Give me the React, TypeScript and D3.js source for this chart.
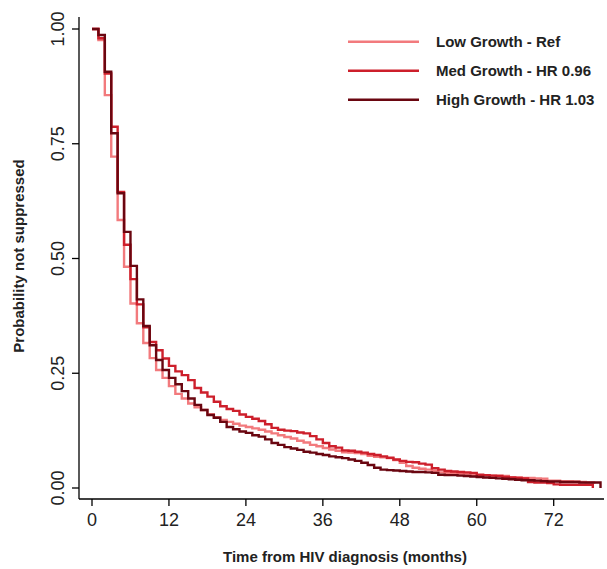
import React from "react";
import * as d3 from "d3";

const seriesNames = ["Low Growth - Ref", "Med Growth - HR 0.96", "High Growth - HR 1.03"];
const seriesColors = ["#F27A7D", "#CD1F2B", "#6A0610"];

const xTicks = [0, 12, 24, 36, 48, 60, 72];
const yTicks = [0, 0.25, 0.5, 0.75, 1.0];

// monthly survival values (month 0..78)
const lowValues = [
  1.0, 0.976, 0.856, 0.722, 0.584, 0.482, 0.402, 0.359, 0.316, 0.283,
  0.257, 0.240, 0.222, 0.205, 0.195, 0.184, 0.176, 0.170, 0.161, 0.154,
  0.148, 0.144, 0.140, 0.136, 0.133, 0.130, 0.127, 0.123, 0.119, 0.115,
  0.111, 0.108, 0.103, 0.099, 0.094, 0.091, 0.087, 0.084, 0.081, 0.078,
  0.077, 0.076, 0.074, 0.070, 0.068, 0.067, 0.065, 0.061, 0.055, 0.048,
  0.044, 0.042, 0.040, 0.037, 0.034, 0.033, 0.032, 0.031, 0.030, 0.029,
  0.028, 0.028, 0.027, 0.027, 0.026, 0.023, 0.023, 0.022, 0.022, 0.021,
  0.020, 0.016, 0.016, 0.015, 0.015, 0.014, 0.013, 0.012, 0.012,
];
const medValues = [
  1.0, 0.980, 0.903, 0.787, 0.645, 0.530, 0.455, 0.400, 0.350, 0.318,
  0.300, 0.282, 0.266, 0.254, 0.246, 0.235, 0.218, 0.208, 0.199, 0.188,
  0.178, 0.172, 0.168, 0.160, 0.155, 0.151, 0.146, 0.139, 0.131, 0.127,
  0.125, 0.124, 0.121, 0.119, 0.113, 0.106, 0.098, 0.091, 0.088, 0.082,
  0.081, 0.079, 0.077, 0.074, 0.072, 0.069, 0.066, 0.062, 0.059, 0.057,
  0.056, 0.053, 0.051, 0.043, 0.040, 0.037, 0.036, 0.035, 0.034, 0.033,
  0.029, 0.028, 0.027, 0.026, 0.024, 0.023, 0.022, 0.021, 0.013, 0.012,
  0.012, 0.011, 0.008, 0.007, 0.007, 0.007, 0.007, 0.007, 0.007,
];
const highValues = [
  1.0, 0.987, 0.907, 0.773, 0.642, 0.558, 0.484, 0.411, 0.353, 0.311,
  0.279, 0.257, 0.240, 0.226, 0.211, 0.195, 0.181, 0.170, 0.159, 0.153,
  0.144, 0.133, 0.128, 0.123, 0.120, 0.115, 0.112, 0.106, 0.098, 0.094,
  0.089, 0.086, 0.083, 0.079, 0.077, 0.074, 0.072, 0.069, 0.067, 0.065,
  0.062, 0.059, 0.055, 0.050, 0.044, 0.040, 0.039, 0.038, 0.037, 0.036,
  0.035, 0.035, 0.034, 0.033, 0.029, 0.028, 0.028, 0.027, 0.026, 0.025,
  0.024, 0.023, 0.022, 0.021, 0.020, 0.019, 0.018, 0.017, 0.017, 0.016,
  0.015, 0.014, 0.014, 0.013, 0.013, 0.013, 0.012, 0.012, 0.012,
];
// last follow-up time and value after it
const endTimes = [78.5, 78.1, 79.3];
const endValues = [0.012, 0.0, 0.0];

const allValues = [lowValues, medValues, highValues];

export default function App() {
  const W = 607;
  const H = 569;
  const x = d3.scaleLinear().domain([0, 72]).range([92, 553.7]);
  const y = d3.scaleLinear().domain([0, 1]).range([488, 29]);
  const line = d3
    .line<[number, number]>()
    .x((d) => x(d[0]))
    .y((d) => y(d[1]))
    .curve(d3.curveStepAfter);

  const axisLeft = 79;
  const axisBottom = 499;
  const font = "'Liberation Sans', Arial, Helvetica, sans-serif";

  const paths = allValues.map((vals, i) => {
    const pts: [number, number][] = vals.map((v, k) => [k, v]);
    pts.push([endTimes[i], endValues[i]]);
    return line(pts) as string;
  });

  return (
    <svg width={W} height={H} style={{ position: "absolute", left: 0, top: 0 }} fontFamily={font}>
      <rect width={W} height={H} fill="#fff" />
      {/* axes */}
      <line x1={axisLeft} x2={axisLeft} y1={17} y2={axisBottom} stroke="#000" strokeWidth={1.3} />
      <line x1={axisLeft} x2={604} y1={axisBottom} y2={axisBottom} stroke="#000" strokeWidth={1.3} />
      {yTicks.map((t) => (
        <g key={"y" + t}>
          <line x1={axisLeft - 7} x2={axisLeft} y1={y(t)} y2={y(t)} stroke="#000" strokeWidth={1.3} />
          <text
            transform={`translate(${63.5},${y(t)}) rotate(-90)`}
            textAnchor="middle"
            fontSize={18}
            fill="#222"
          >
            {t.toFixed(2)}
          </text>
        </g>
      ))}
      {xTicks.map((t) => (
        <g key={"x" + t}>
          <line x1={x(t)} x2={x(t)} y1={axisBottom} y2={axisBottom + 7} stroke="#000" strokeWidth={1.3} />
          <text x={x(t)} y={525.5} textAnchor="middle" fontSize={18} fill="#222">
            {t}
          </text>
        </g>
      ))}
      <text x={345} y={562} textAnchor="middle" fontSize={15} fontWeight="bold" fill="#222">
        Time from HIV diagnosis (months)
      </text>
      <text
        transform={`translate(${24},${256}) rotate(-90)`}
        textAnchor="middle"
        fontSize={15}
        fontWeight="bold"
        fill="#222"
      >
        Probability not suppressed
      </text>
      {/* curves */}
      {paths.map((p, i) => (
        <path key={i} d={p} fill="none" stroke={seriesColors[i]} strokeWidth={2.4} />
      ))}
      {/* legend */}
      {seriesNames.map((n, i) => (
        <g key={n} transform={`translate(0,${41.7 + i * 29})`}>
          <line x1={348} x2={419} y1={0} y2={0} stroke={seriesColors[i]} strokeWidth={2.4} />
          <text x={436} y={5.3} fontSize={15} fontWeight="bold" fill="#222">
            {n}
          </text>
        </g>
      ))}
    </svg>
  );
}
